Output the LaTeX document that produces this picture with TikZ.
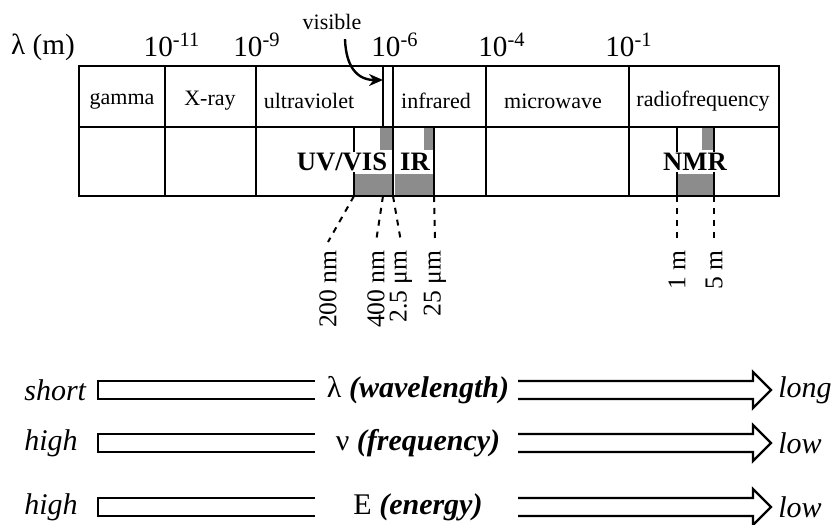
\documentclass[tikz,border=0pt]{standalone}
\usepackage{fontspec}
\setmainfont{Liberation Serif}
\usetikzlibrary{arrows.meta}

\begin{document}
\begin{tikzpicture}[x=0.5pt, y=-0.5pt,
    every node/.style={inner sep=1pt},
    cell/.style={font=\fontsize{11}{13}\selectfont},
    expo/.style={font=\fontsize{14.6}{17}\selectfont},
    region/.style={font=\fontsize{13.3}{16}\selectfont\bfseries, fill=white, inner sep=0.5pt},
    wl/.style={font=\fontsize{12.8}{15}\selectfont, rotate=90, anchor=east, inner sep=4pt},
    cut/.style={line width=1pt, dash pattern=on 3pt off 3pt},
    shade/.style={fill=black!45},
    fat/.style={line width=1.2pt, line join=miter},
    side/.style={font=\fontsize{15}{18}\selectfont\itshape},
    quantity/.style={font=\fontsize{15}{18}\selectfont}]
  \useasboundingbox (0,0) rectangle (837,525);

  % shaded bands behind the bold labels
  \foreach \xa/\xb/\xc in {354/380/392, 395/424/434, 677/702/714} {
    \fill[shade] (\xa,174) rectangle (\xc,196);
    \fill[shade] (\xb,128) rectangle (\xc,150);
  }

  % the table
  \draw[line width=1pt] (79,66) rectangle (779,196);
  \draw[line width=1pt] (79,127) -- (779,127);
  \foreach \x in {165,256,393,486,629}
    \draw[line width=1pt] (\x,66) -- (\x,196);
  \foreach \x in {354,434,677,714}
    \draw[line width=1pt] (\x,127) -- (\x,196);
  \draw[line width=0.7pt] (383,66) -- (383,127);

  \node[cell] (gam) at (122,101) {gamma};
  \node[cell] (xr) at (210,101) {X-ray};
  \node[cell] (uv) at (309,101) {ultraviolet};
  \node[cell] (ir) at (436,101) {infrared};
  \node[cell] (mw) at (553,101) {microwave};
  \node[cell] (rf) at (703,101) {radiofrequency};

  \node[region] (uvvis) at (342,162) {UV/VIS};
  \node[region] (irb) at (415,162) {IR};
  \node[region] (nmr) at (695,162) {NMR};

  % wavelength scale on top
  \node[expo] (lam) at (43,47) {λ (m)};
  \foreach \x/\e [count=\i] in {172/-11, 257/-9, 395/-6, 502/-4, 629/-1}
    \node[expo] (p\i) at (\x,45) {10\textsuperscript{\e}};

  \node[cell] (vis) at (332,22) {visible};
  \coordinate (vistip) at (383,80);
  \draw[line width=1.2pt, -{Stealth[length=7pt,width=6pt]}] ([xshift=6.5pt,yshift=-3.5pt]vis.south)
    .. controls (346,68) and (358,80) .. (vistip);

  % limits of the methods
  \foreach \bx/\lx/\lbl [count=\i] in {354/328/200 nm, 383/376/400 nm, 393/401/2.5 μm, 434/435/25 μm, 677/677/1 m, 714/714/5 m} {
    \coordinate (b\i) at (\bx,196);
    \node[wl] (w\i) at (\lx,242) {\lbl};
    \draw[cut] (b\i) -- (w\i.east);
  }

  % the three open arrows
  \foreach \y/\lft/\qty/\rgt [count=\i] in {390/short/{λ \textbf{\textit{(wavelength)}}}/long,
      443/high/{ν \textbf{\textit{(frequency)}}}/low, 507/high/{E \textbf{\textit{(energy)}}}/low} {
    \node[side, anchor=west] (lo\i) at (22,\y) {\lft};
    \node[quantity] (q\i) at (418,\y) {\qty};
    \node[side, anchor=west] (hi\i) at (776,\y) {\rgt};
    \draw[fat] (315,\y-9) -- (98,\y-9) -- (98,\y+9) -- (315,\y+9);
    \draw[fat] (518,\y-9) -- (753,\y-9) -- (753,\y-18) -- (771,\y) -- (753,\y+18) -- (753,\y+9) -- (518,\y+9);
  }
\end{tikzpicture}
\end{document}
